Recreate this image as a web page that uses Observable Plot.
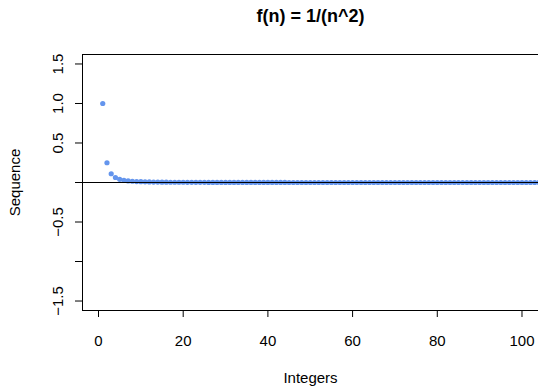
<!DOCTYPE html>
<html>
<head>
<meta charset="utf-8">
<script src="https://cdn.jsdelivr.net/npm/d3@7"></script>
<script src="https://cdn.jsdelivr.net/npm/@observablehq/plot@0.6"></script>
<style>
  html, body { margin: 0; padding: 0; background: #fff; }
</style>
</head>
<body>
<div id="chart"></div>
<script>
const title = "f(n) = 1/(n^2)";
const xLabel = "Integers";
const yLabel = "Sequence";
const xTicks = [0, 20, 40, 60, 80, 100];
const yTicks = [-1.5, -1, -0.5, 0, 0.5, 1, 1.5];
const yTickLabels = ["−1.5", "", "−0.5", "", "0.5", "1.0", "1.5"];
// sequence values (n = 1, 2, 3, ...)
const values = [
  1, 0.25, 0.111, 0.063, 0.04, 0.028, 0.02, 0.016, 0.012, 0.01,
  0.008, 0.007, 0.006, 0.005, 0.004, 0.004, 0.003, 0.003, 0.003, 0.003,
  0.002, 0.002, 0.002, 0.002, 0.002, 0.001, 0.001, 0.001, 0.001, 0.001,
  0.001, 0.001, 0.001, 0.001, 0.001, 0.001, 0.001, 0.001, 0.001, 0.001,
  0.001, 0.001, 0.001, 0.001, 0, 0, 0, 0, 0, 0,
  0, 0, 0, 0, 0, 0, 0, 0, 0, 0,
  0, 0, 0, 0, 0, 0, 0, 0, 0, 0,
  0, 0, 0, 0, 0, 0, 0, 0, 0, 0,
  0, 0, 0, 0, 0, 0, 0, 0, 0, 0,
  0, 0, 0, 0, 0, 0, 0, 0, 0, 0,
  0, 0, 0, 0, 0, 0, 0, 0, 0, 0
];
const data = values.map((v, i) => ({n: i + 1, v}));
const xDomain = [-3.78, 103.9];
const yDomain = [-1.62, 1.62];
const yTickData = yTicks.map((t, i) => ({t, label: yTickLabels[i]}));

const chart = Plot.plot({
  width: 538,
  height: 386,
  marginLeft: 82,
  marginRight: 0,
  marginTop: 54,
  marginBottom: 76,
  style: {fontFamily: "'Liberation Sans', Arial, Helvetica, sans-serif", fontSize: "15px", color: "black", background: "white"},
  x: {domain: xDomain, axis: null},
  y: {domain: yDomain, axis: null},
  marks: [
    Plot.dot(data, {x: "n", y: "v", r: 2.6, fill: "#6495ED", stroke: "none", clip: true}),
    Plot.ruleY([0], {stroke: "black", strokeWidth: 1}),
    Plot.ruleY([yDomain[0], yDomain[1]], {stroke: "black", strokeWidth: 1}),
    Plot.ruleX([xDomain[0]], {stroke: "black", strokeWidth: 1}),
    Plot.axisX(xTicks, {anchor: "bottom", tickSize: 7, tickPadding: 18, label: null, stroke: "black", fill: "black", fontSize: 15}),
    Plot.axisY(yTicks, {anchor: "left", tickSize: 7, tickFormat: () => "", label: null, stroke: "black"}),
    Plot.text(yTickData, {y: "t", text: "label", frameAnchor: "left", dx: -24, rotate: -90, textAnchor: "middle", lineAnchor: "middle", fill: "black", fontSize: 15}),
    Plot.text([title], {frameAnchor: "top", dy: -38.5, lineAnchor: "middle", fontWeight: "bold", fontSize: 18, fill: "black"}),
    Plot.text([xLabel], {frameAnchor: "bottom", dy: 68, lineAnchor: "middle", fill: "black", fontSize: 15}),
    Plot.text([yLabel], {frameAnchor: "left", dx: -67, rotate: -90, textAnchor: "middle", lineAnchor: "middle", fill: "black", fontSize: 15})
  ]
});
document.getElementById("chart").appendChild(chart);
</script>
</body>
</html>
